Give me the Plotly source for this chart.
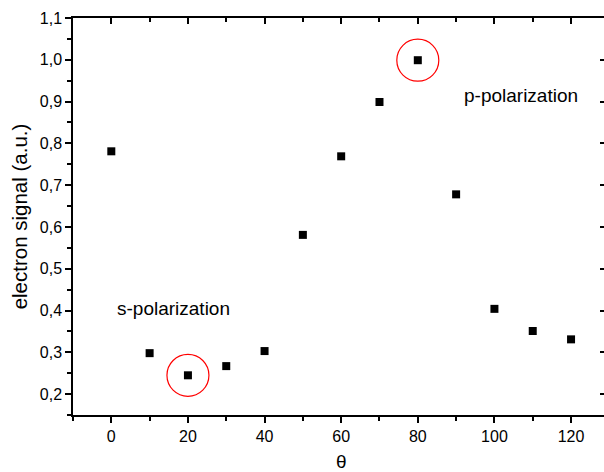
import plotly.graph_objects as go

# Measured electron signal versus polarization angle
theta = [0, 10, 20, 30, 40, 50, 60, 70, 80, 90, 100, 110, 120]
signal = [0.781, 0.298, 0.245, 0.267, 0.303, 0.581, 0.769, 0.899, 0.999, 0.678, 0.404, 0.351, 0.331]

# Extremal points that get a red ring
ring_theta = [20, 80]
ring_signal = [0.245, 0.999]

# Text labels for the two polarization states
label_text = ["s-polarization", "p-polarization"]
label_x = [16.3, 107.0]
label_y = [0.405, 0.915]

FONT = "Liberation Sans, Arial, sans-serif"
XR = [-10, 128.6]
YR = [0.15, 1.1]

fig = go.Figure()

fig.add_trace(go.Scatter(
    x=theta, y=signal, mode="markers",
    marker=dict(symbol="square", size=8, color="black", line=dict(width=0)),
    showlegend=False, hoverinfo="skip",
))

fig.add_trace(go.Scatter(
    x=ring_theta, y=ring_signal, mode="markers",
    marker=dict(symbol="circle-open", size=42, color="red", line=dict(width=1.2, color="red")),
    showlegend=False, hoverinfo="skip",
))

# Invisible trace that activates the top/right tick axes
fig.add_trace(go.Scatter(
    x=[XR[0]], y=[YR[0]], xaxis="x2", yaxis="y2", mode="markers",
    marker=dict(opacity=0), showlegend=False, hoverinfo="skip",
))

for t, xv, yv in zip(label_text, label_x, label_y):
    fig.add_annotation(x=xv, y=yv, text=t, showarrow=False,
                       font=dict(family=FONT, size=19, color="black"))

# x-axis title placed below the tick labels
fig.add_annotation(x=60, xref="x", y=-0.117, yref="paper", yanchor="middle",
                   text="θ", showarrow=False,
                   font=dict(family=FONT, size=19, color="black"))

fig.update_layout(
    width=604, height=472,
    margin=dict(l=73, r=0, t=18, b=57),
    paper_bgcolor="white", plot_bgcolor="white",
    separators=", ",
    font=dict(family=FONT, size=16, color="black"),
    xaxis=dict(
        range=XR, showgrid=False, zeroline=False, automargin=False,
        showline=True, linecolor="black", linewidth=1.5,
        ticks="outside", ticklen=6, tickwidth=1.5, tickcolor="black",
        tick0=0, dtick=20,
        minor=dict(ticks="outside", ticklen=4, tickwidth=1.5, tickcolor="black",
                   tick0=0, dtick=10, showgrid=False),
    ),
    yaxis=dict(
        range=YR, showgrid=False, zeroline=False, automargin=False,
        showline=True, linecolor="black", linewidth=1.5,
        ticks="outside", ticklen=6, tickwidth=1.5, tickcolor="black",
        tick0=0.2, dtick=0.1, tickformat=".1f",
        minor=dict(ticks="outside", ticklen=4, tickwidth=1.5, tickcolor="black",
                   tick0=0.15, dtick=0.1, showgrid=False),
        title=dict(text="electron signal (a.u.)", font=dict(size=20.5), standoff=7),
    ),
    xaxis2=dict(
        overlaying="x", side="top", range=XR, showgrid=False, zeroline=False,
        showline=True, linecolor="black", linewidth=1.5,
        ticks="inside", ticklen=6, tickwidth=1.5, tickcolor="black",
        tick0=0, dtick=20, showticklabels=False,
        minor=dict(ticks="inside", ticklen=4, tickwidth=1.5, tickcolor="black",
                   tick0=0, dtick=10, showgrid=False),
    ),
    yaxis2=dict(
        overlaying="y", side="right", range=YR, showgrid=False, zeroline=False,
        showline=False,
        ticks="inside", ticklen=4, tickwidth=1.5, tickcolor="black",
        tick0=0.2, dtick=0.1, showticklabels=False,
    ),
)

fig.write_html("out.html")
